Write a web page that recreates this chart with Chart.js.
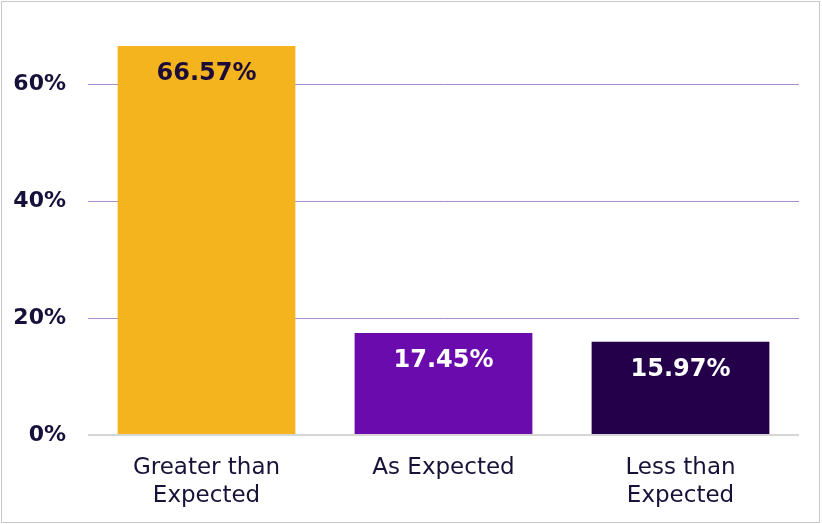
<!DOCTYPE html>
<html>
<head>
<meta charset="utf-8">
<script src="https://cdn.jsdelivr.net/npm/chart.js@4"></script>
<style>
  html, body { margin: 0; padding: 0; background: #fff; }
  #wrap { position: relative; width: 822px; height: 524px; }
  #frame { position: absolute; left: 1px; top: 1px; width: 817px; height: 520px;
           border: 1px solid #c8c8c8; pointer-events: none; }
</style>
</head>
<body>
<div id="wrap">
  <canvas id="barChart" width="822" height="524"></canvas>
  <div id="frame"></div>
</div>
<script>
const categories = [["Greater than", "Expected"], ["As Expected"], ["Less than", "Expected"]];
const values = [66.57, 17.45, 15.97];
const tickValues = [0, 20, 40, 60];
const barColors = ["#F4B41E", "#6A0BAD", "#25004A"];
const labelColors = ["#1C0B38", "#FFFFFF", "#FFFFFF"];

// draws the % labels inside the top of each bar
const barLabels = {
  id: "barLabels",
  afterDatasetsDraw(chart) {
    const c = chart.ctx;
    const meta = chart.getDatasetMeta(0);
    c.save();
    c.font = "bold 24px 'DejaVu Sans'";
    c.textAlign = "center";
    c.textBaseline = "middle";
    meta.data.forEach((bar, i) => {
      c.fillStyle = labelColors[i];
      c.fillText(values[i].toFixed(2) + "%", bar.x, bar.y + 28);
    });
    c.restore();
  }
};

const ctx = document.getElementById("barChart").getContext("2d");

const chart = new Chart(ctx, {
  type: "bar",
  data: {
    labels: categories,
    datasets: [{
      data: values,
      backgroundColor: barColors,
      borderWidth: 0,
      barPercentage: 0.75,
      categoryPercentage: 1
    }]
  },
  options: {
    responsive: false,
    animation: false,
    layout: { padding: { top: 46, right: 23, bottom: 0, left: 0 } },
    plugins: {
      legend: { display: false },
      tooltip: { enabled: false }
    },
    scales: {
      x: {
        grid: { display: false },
        border: { display: false },
        ticks: {
          color: "#181238",
          padding: 11,
          maxRotation: 0,
          font: { family: "DejaVu Sans", size: 23, lineHeight: 1.22 }
        },
        afterFit(scale) { scale.height = 89; }
      },
      y: {
        min: 0,
        max: Math.max(...values),
        border: { display: false },
        grid: {
          drawTicks: false,
          color: (c) => c.tick && c.tick.value === 0 ? "#D6D6D6" : "#AE8BC8",
          lineWidth: (c) => c.tick && c.tick.value === 0 ? 2 : 1
        },
        ticks: {
          color: "#16113A",
          padding: 22,
          font: { family: "DejaVu Sans", size: 22, weight: "bold" },
          callback: (v) => v + "%"
        },
        afterBuildTicks(scale) {
          scale.ticks = tickValues.map(v => ({ value: v }));
        },
        afterFit(scale) { scale.width = 88; }
      }
    }
  },
  plugins: [barLabels]
});
</script>
</body>
</html>
